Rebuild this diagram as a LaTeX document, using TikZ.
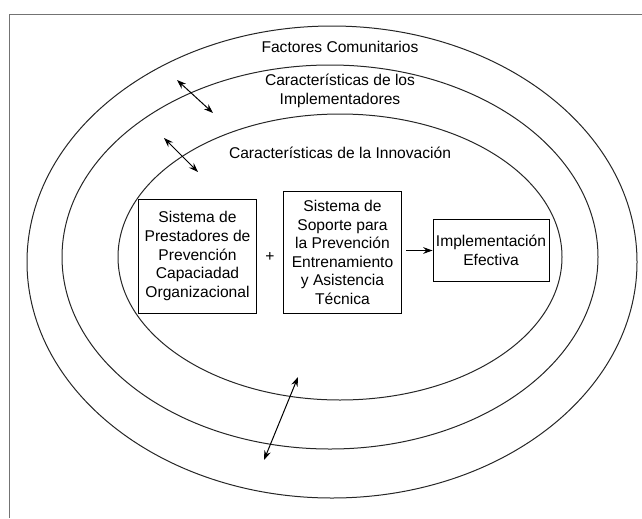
\documentclass[tikz,border=0pt]{standalone}
\usepackage{fontspec}
\setmainfont{Liberation Sans}
\usepackage{xcolor}
\usetikzlibrary{arrows.meta,positioning}

\tikzset{
    ring/.style={line width=0.75pt, draw=black!85},
    sysbox/.style={draw, line width=0.7pt, inner sep=0pt, align=center,
        font=\fontsize{11.7}{13.9}\selectfont},
    ringlabel/.style={align=center, inner sep=0pt,
        font=\fontsize{11.7}{13.9}\selectfont},
    link/.style={line width=0.75pt, -{Stealth[length=7pt,width=5pt]}},
    twoway/.style={line width=0.75pt, {Stealth[length=7pt,width=5pt]}-{Stealth[length=7pt,width=5pt]}}
}

\begin{document}
\begin{tikzpicture}[x=0.75pt, y=-0.75pt]
    \useasboundingbox (0,0) rectangle (642,518);

    % frame
    \draw[
        line width=0.7pt,
        draw=black!55
        ] (9,518) -- (9,14) -- (642,14);

    % rings
    \draw[ring] (332,262) ellipse [x radius=305, y radius=236];
    \draw[ring] (330,257) ellipse [x radius=268, y radius=192];
    \draw[ring] (340,257) ellipse [x radius=222, y radius=143];

    \node[ringlabel] (comunidad) at (340,47) {Factores Comunitarios};
    \node[ringlabel] (implementadores) at (340,91) {Características de los\\Implementadores};
    \node[ringlabel] (innovacion) at (340,153) {Características de la Innovación};

    % boxes
    \node[sysbox, minimum width=89pt, minimum height=85.5pt] (prestadores) at (197.5,256)
        {Sistema de\\Prestadores de\\Prevención\\Capaciadad\\Organizacional};
    \node[sysbox, minimum width=89pt, minimum height=92pt] (soporte) at (342.5,252.5)
        {Sistema de\\Soporte para\\la Prevención\\Entrenamiento\\y Asistencia\\Técnica};
    \node[sysbox, minimum width=87pt, minimum height=47pt] (efectiva) at (491,250.5)
        {Implementación\\Efectiva};

    \node[ringlabel] (mas) at (270,257) {+};

    \draw[link] (soporte.east |- efectiva.west) ++(4,0) coordinate (s) -- (efectiva.west);

    % interactions between rings
    \coordinate (a1) at (177,80);
    \coordinate (a2) at (213,113);
    \coordinate (b1) at (164,138);
    \coordinate (b2) at (198,172);
    \coordinate (c1) at (298,377);
    \coordinate (c2) at (264,460);

    \draw[twoway] (a1) -- (a2);
    \draw[twoway] (b1) -- (b2);
    \draw[twoway] (c1) -- (c2);
\end{tikzpicture}
\end{document}
